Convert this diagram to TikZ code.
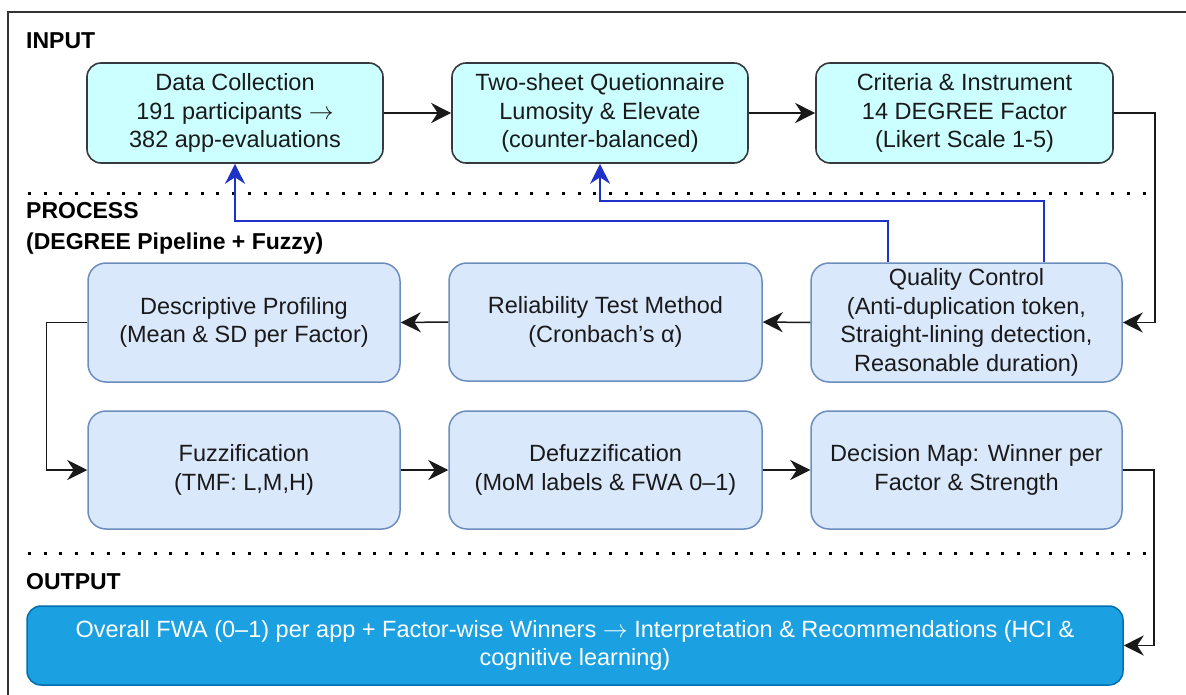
\documentclass[tikz,border=0pt]{standalone}
\usepackage{fontspec}
\setmainfont{Liberation Sans}
\usetikzlibrary{arrows.meta,positioning}
\definecolor{cyanfill}{HTML}{CCFFFF}
\definecolor{boxline}{HTML}{36393D}
\definecolor{lbfill}{HTML}{DAE8FC}
\definecolor{lbline}{HTML}{6C8EBF}
\definecolor{outfill}{HTML}{1BA1E2}
\definecolor{outline}{HTML}{006EAF}
\definecolor{fbblue}{HTML}{1E32C8}
\definecolor{txt}{HTML}{1A1A1A}
\newcommand{\rarr}{\(\rightarrow\)}
\tikzset{
  base/.style={rounded corners=14pt, align=center, text=txt, inner sep=2pt,
    font=\fontsize{23.5}{28.5}\selectfont},
  inbox/.style={base, fill=cyanfill, draw=boxline, line width=1.6pt,
    minimum width=296pt, minimum height=100pt},
  procbox/.style={base, fill=lbfill, draw=lbline, line width=1.5pt, rounded corners=18pt,
    minimum width=312pt, minimum height=118pt},
  outbox/.style={base, fill=outfill, draw=outline, line width=1.5pt, text=white,
    minimum width=1096pt, minimum height=79pt},
  lbl/.style={anchor=west, align=left, inner sep=0pt,
    font=\fontsize{23}{31}\selectfont\bfseries},
  conn/.style={draw=black!90, line width=1.5pt,
    -{Stealth[length=20pt, width=20pt, inset=6.5pt]}},
  fb/.style={draw=fbblue, line width=1.5pt,
    -{Stealth[length=20pt, width=20pt, inset=6.5pt]}},
  sep/.style={draw=black, line width=3pt, dash pattern=on 3pt off 12.7pt},
}
\begin{document}
\begin{tikzpicture}[x=1pt, y=-1pt]
\useasboundingbox (0,0) rectangle (1186,695);
\clip (0,0) rectangle (1186,695);
\fill[white] (0,0) rectangle (1186,695);
\draw[black!80, line width=1.5pt] (8,12) rectangle (1210,720);

% section separators
\coordinate (s1a) at (28,194);
\coordinate (s1b) at (1152,194);
\coordinate (s2a) at (28,553);
\coordinate (s2b) at (1152,553);
\draw[sep] (s1a) -- (s1b);
\draw[sep] (s2a) -- (s2b);

% labels
\node[lbl] (lin) at (26,41) {INPUT};
\node[lbl, anchor=north west] (lproc) at (26,202) {PROCESS\\(DEGREE Pipeline + Fuzzy)};
\node[lbl] (lout) at (26,582) {OUTPUT};

% input row
\node[inbox] (b1) at (235,113) {Data Collection\\191 participants \rarr\\382 app-evaluations};
\node[inbox] (b2) at (600,113) {Two-sheet Quetionnaire\\Lumosity \& Elevate\\(counter-balanced)};
\node[inbox, minimum width=297pt] (b3) at (964.5,113) {Criteria \& Instrument\\14 DEGREE Factor\\(Likert Scale 1-5)};

% process rows
\node[procbox, minimum height=119pt] (desc) at (244,322.5) {Descriptive Profiling\\(Mean \& SD per Factor)};
\node[procbox, minimum width=313pt] (rel) at (605.5,322) {Reliability Test Method\\(Cronbach’s α)};
\node[procbox, minimum width=311pt, minimum height=119pt] (qc) at (966.5,322.5) {Quality Control\\(Anti-duplication token,\\Straight-lining detection,\\Reasonable duration)};

\node[procbox] (fuzz) at (244,470) {Fuzzification\\(TMF: L,M,H)};
\node[procbox, minimum width=313pt] (defuzz) at (605.5,470) {Defuzzification\\(MoM labels \& FWA 0–1)};
\node[procbox, minimum width=311pt] (dec) at (966.5,470) {Decision Map: Winner per\\Factor \& Strength};

% output
\node[outbox] (out) at (575,645.5) {Overall FWA (0–1) per app + Factor-wise Winners \rarr{} Interpretation \& Recommendations (HCI \&\\cognitive learning)};

% connectors
\draw[conn] (b1) -- (b2);
\draw[conn] (b2) -- (b3);
\draw[conn] (b3.east) -- ++(41,0) |- (qc.east);
\draw[conn] (qc.west) -- (rel.east);
\draw[conn] (rel.west) -- (desc.east);
\draw[conn] (desc.west) -- ++(-41,0) |- (fuzz.west);
\draw[conn] (fuzz) -- (defuzz);
\draw[conn] (defuzz) -- (dec);
\draw[conn] (dec.east) -- ++(31,0) |- (out.east);

% feedback (blue)
\draw[fb] ([xshift=77.5pt]qc.north) -- ++(0,-61) -| (b2.south);
\draw[fb] ([xshift=-78.5pt]qc.north) -- ++(0,-41) -| (b1.south);
\end{tikzpicture}
\end{document}
